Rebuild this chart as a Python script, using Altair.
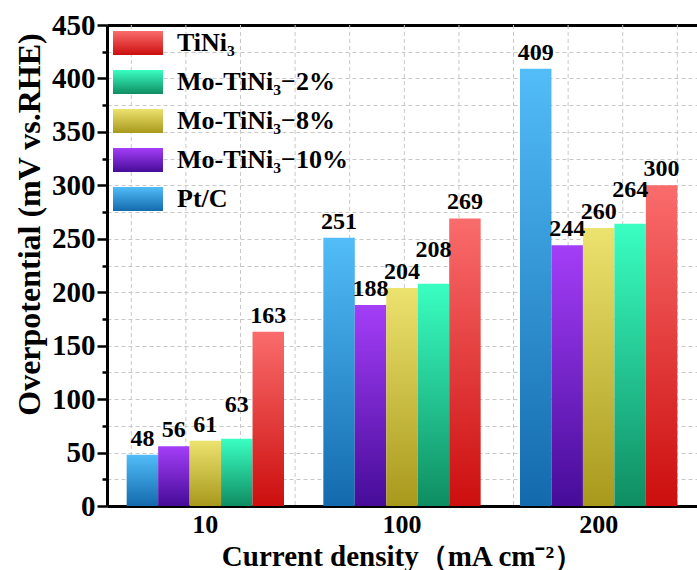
import altair as alt
import pandas as pd

# Current densities (mA cm^-2) on the category axis
densities = ["10", "100", "200"]

# Catalysts, left to right inside each group
series = ["Pt/C", "Mo-TiNi₃−10%", "Mo-TiNi₃−8%", "Mo-TiNi₃−2%", "TiNi₃"]

# Overpotential (mV vs. RHE) for each catalyst at 10 / 100 / 200 mA cm^-2
pt_c = [48, 251, 409]
mo_10 = [56, 188, 244]
mo_8 = [61, 204, 260]
mo_2 = [63, 208, 264]
tini3 = [163, 269, 300]

values = {
    "Pt/C": pt_c,
    "Mo-TiNi₃−10%": mo_10,
    "Mo-TiNi₃−8%": mo_8,
    "Mo-TiNi₃−2%": mo_2,
    "TiNi₃": tini3,
}

# Legend order, top to bottom
legend_order = ["TiNi₃", "Mo-TiNi₃−2%", "Mo-TiNi₃−8%", "Mo-TiNi₃−10%", "Pt/C"]

# Vertical gradient (light top -> dark bottom) for each catalyst
shades = {
    "Pt/C": ("#52bdf8", "#136aad"),
    "Mo-TiNi₃−10%": ("#a43ef8", "#460c98"),
    "Mo-TiNi₃−8%": ("#ece26e", "#a8991c"),
    "Mo-TiNi₃−2%": ("#3affc2", "#0f8d62"),
    "TiNi₃": ("#fa6c6c", "#cc0e0e"),
}

rows = [
    {"density": d, "series": s, "value": v}
    for s in series
    for d, v in zip(densities, values[s])
]
df = pd.DataFrame(rows)

FONT = "Liberation Serif"
W, H = 590, 481


def gradient(s):
    top, bottom = shades[s]
    return {
        "gradient": "linear",
        "x1": 0, "y1": 0, "x2": 0, "y2": 1,
        "stops": [
            {"offset": 0, "color": top},
            {"offset": 1, "color": bottom},
        ],
    }


x_enc = alt.X(
    "density:N",
    sort=densities,
    scale=alt.Scale(paddingInner=0.2, paddingOuter=0.1),
    axis=alt.Axis(
        title="Current density（mA cm⁻²）",
        titleFont=FONT,
        titleFontSize=29,
        titleFontWeight="bold",
        titleColor="black",
        titleY=59,
        titleBaseline="alphabetic",
        labelFont=FONT,
        labelFontSize=26,
        labelFontWeight="bold",
        labelColor="black",
        labelAngle=0,
        labelPadding=5,
        ticks=False,
        domainColor="black",
        domainWidth=3,
        grid=False,
    ),
)

y_enc = alt.Y(
    "value:Q",
    scale=alt.Scale(domain=[0, 450], nice=False),
    axis=alt.Axis(
        title="Overpotential (mV vs.RHE)",
        titleFont=FONT,
        titleFontSize=32,
        titleFontWeight="bold",
        titleColor="black",
        titleAngle=270,
        titleX=-78,
        titleY=199,
        titleAlign="center",
        titleBaseline="middle",
        values=list(range(0, 451, 25)),
        labelExpr="datum.value % 50 === 0 ? datum.label : ''",
        labelOverlap=False,
        labelFont=FONT,
        labelFontSize=29,
        labelFontWeight="bold",
        labelColor="black",
        labelPadding=2,
        tickColor="black",
        tickWidth=2.5,
        tickSize={"condition": {"test": "datum.value % 50 === 0", "value": 10}, "value": 5},
        domainColor="black",
        domainWidth=3,
        grid=True,
        gridColor="#c8c8c8",
        gridDash=[4, 3],
        gridWidth=1,
    ),
)

xoff_enc = alt.XOffset(
    "series:N",
    sort=series,
    scale=alt.Scale(domain=series, paddingInner=0, paddingOuter=0),
)

bar_layers = []
label_layers = []
for s in series:
    sub = alt.Chart(df).transform_filter(alt.datum.series == s)
    bar_layers.append(
        sub.mark_bar(color=gradient(s)).encode(x=x_enc, xOffset=xoff_enc, y=y_enc)
    )
    # the 2% labels sit higher so they clear the neighbouring 8% labels
    lift = -22 if s == "Mo-TiNi₃−2%" else -4
    label_layers.append(
        sub.mark_text(
            font=FONT, fontSize=24, fontWeight="bold", color="black",
            baseline="bottom", dy=lift,
        ).encode(x=x_enc, xOffset=xoff_enc, y=y_enc, text=alt.Text("value:Q", format="d"))
    )

# Legend: gradient swatch and name for each catalyst
legend_layers = []
for i, s in enumerate(legend_order):
    item = alt.Chart(alt.Data(values=[{"name": s}]))
    top = 6 + 39 * i
    legend_layers.append(
        item.mark_rect(color=gradient(s)).encode(
            x=alt.value(6), x2=alt.value(56), y=alt.value(top), y2=alt.value(top + 24)
        )
    )
    legend_layers.append(
        item.mark_text(
            font=FONT, fontSize=26, fontWeight="bold", color="black",
            align="left", baseline="middle",
        ).encode(x=alt.value(70), y=alt.value(top + 12), text="name:N")
    )

bars = alt.layer(*bar_layers, *label_layers, *legend_layers)

# Dashed vertical grid plus the top frame line
vgrid = alt.Chart(alt.sequence(0, 11, as_="g")).mark_rule(
    color="#c8c8c8", strokeDash=[4, 3], strokeWidth=1
).encode(
    x=alt.X(
        "g:Q",
        scale=alt.Scale(domain=[-0.445, 10.36], nice=False, zero=False),
        axis=alt.Axis(
            orient="top", title=None, labels=False, ticks=False, grid=False,
            domainColor="black", domainWidth=3,
        ),
    )
)

chart = (
    alt.layer(vgrid, bars)
    .resolve_scale(x="independent")
    .properties(
        width=W,
        height=H,
        padding={"left": 107, "top": 25, "right": 0, "bottom": 64},
        autosize=alt.AutoSizeParams(type="none"),
        background="white",
    )
    .configure_view(stroke=None)
)

chart.save("out.html", embed_options={"renderer": "svg", "actions": False})
